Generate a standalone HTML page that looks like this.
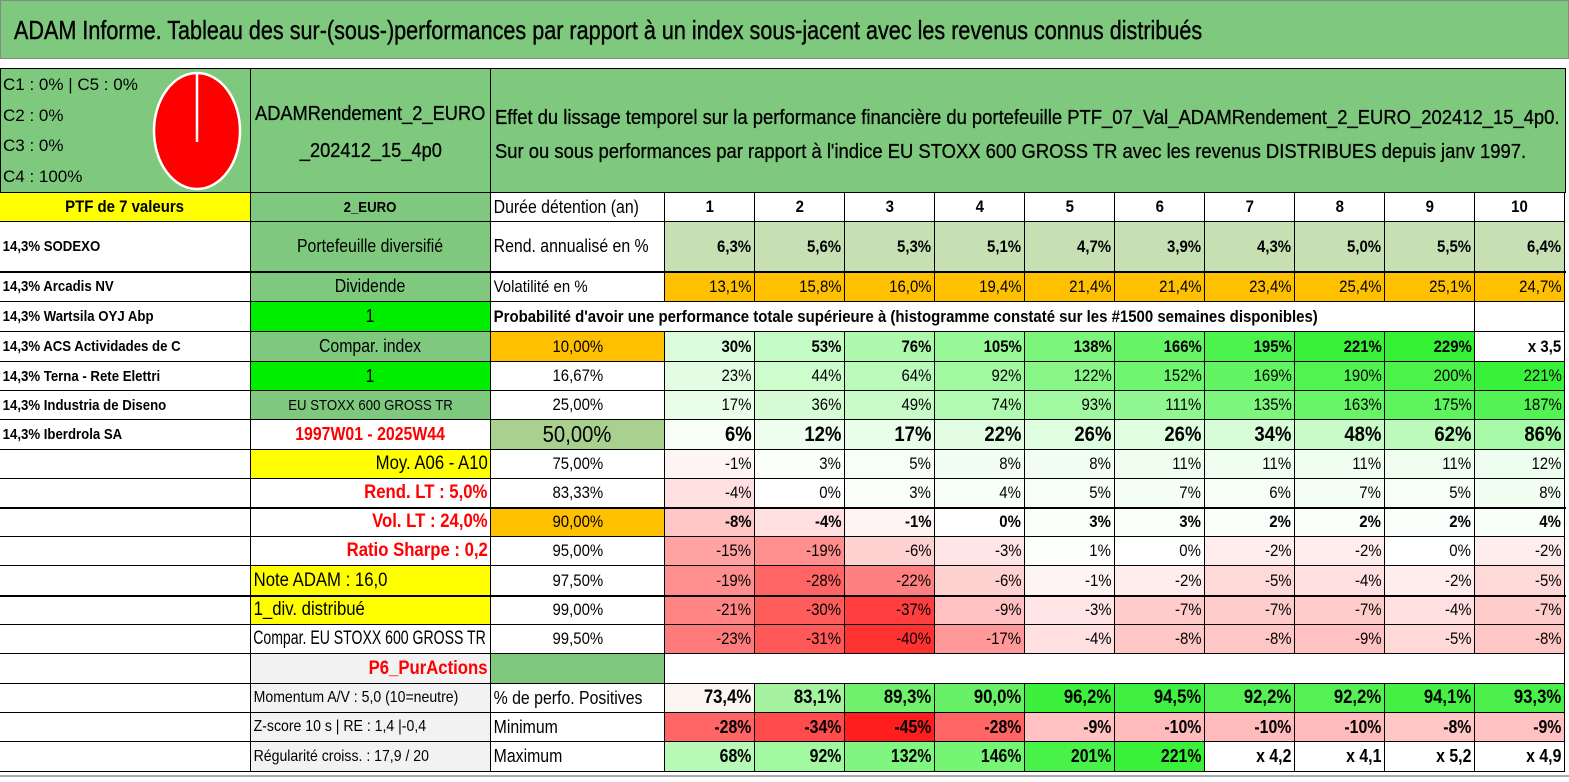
<!DOCTYPE html>
<html><head><meta charset="utf-8">
<style>
html,body{margin:0;padding:0;background:#fff;}
#root{position:relative;width:1569px;height:782px;overflow:hidden;font-family:"Liberation Sans Narrow","Liberation Sans",sans-serif;color:#000;}
.c{position:absolute;box-sizing:border-box;border-right:1px solid #000;border-bottom:1px solid #000;display:flex;align-items:center;overflow:hidden;white-space:nowrap;font-size:15px;}
.c span{display:inline-block;padding:0 3px;}
.l{justify-content:flex-start}.m{justify-content:center}.r{justify-content:flex-end}
.l span{transform-origin:left center}.m span{transform-origin:center center}.r span{transform-origin:right center}
.b{font-weight:bold}
</style></head><body>
<div id="root">
<div style="position:absolute;left:0;top:0;width:1569px;height:59px;background:#7fc97f;border:1px solid #888;box-sizing:border-box;">
 <span id="title" style="position:absolute;left:13px;top:14px;font-size:26px;white-space:nowrap;transform-origin:left center;display:inline-block;-webkit-text-stroke:0.4px #000;">ADAM Informe. Tableau des sur-(sous-)performances par rapport à un index sous-jacent avec les revenus connus distribués</span>
</div>
<div style="position:absolute;left:0;top:68px;width:1566px;height:125px;background:#7fc97f;border:1px solid #000;box-sizing:border-box;"></div>
<div style="position:absolute;left:3px;top:70px;font-size:17px;line-height:30.5px;">C1 : 0% | C5 : 0%<br>C2 : 0%<br>C3 : 0%<br>C4 : 100%</div>
<svg style="position:absolute;left:150px;top:70px" width="95" height="122"><ellipse cx="47" cy="61" rx="43" ry="58" fill="#ff0000" stroke="#fff" stroke-width="2.5"/><line x1="47" y1="3" x2="47" y2="72" stroke="#fff" stroke-width="2.5"/></svg>
<div style="position:absolute;left:250px;top:68px;width:1px;height:125px;background:#000"></div>
<div style="position:absolute;left:490px;top:68px;width:1px;height:125px;background:#000"></div>
<div style="position:absolute;left:251px;top:96px;width:239px;display:flex;flex-direction:column;align-items:center;font-size:20px;line-height:37px;-webkit-text-stroke:0.3px #000;"><span id="pn1" style="display:inline-block;white-space:nowrap">ADAMRendement_2_EURO</span><span id="pn2" style="display:inline-block;white-space:nowrap">_202412_15_4p0</span></div>
<div id="desc" style="position:absolute;left:495px;top:101px;font-size:20px;line-height:34px;white-space:nowrap;-webkit-text-stroke:0.3px #000;">Effet du lissage temporel sur la performance financière du portefeuille PTF_07_Val_ADAMRendement_2_EURO_202412_15_4p0.<br>Sur ou sous performances par rapport à l'indice EU STOXX 600 GROSS TR avec les revenus DISTRIBUES depuis janv 1997.</div>
</div>
<script>
const years=["1","2","3","4","5","6","7","8","9","10"];
const rendValues=["6,3%","5,6%","5,3%","5,1%","4,7%","3,9%","4,3%","5,0%","5,5%","6,4%"];
const volValues=["13,1%","15,8%","16,0%","19,4%","21,4%","21,4%","23,4%","25,4%","25,1%","24,7%"];
const quantLabels=["10,00%","16,67%","25,00%","50,00%","75,00%","83,33%","90,00%","95,00%","97,50%","99,00%","99,50%"];
const q10=[30,53,76,105,138,166,195,221,229,"x 3,5"];
const q16=[23,44,64,92,122,152,169,190,200,221];
const q25=[17,36,49,74,93,111,135,163,175,187];
const q50=[6,12,17,22,26,26,34,48,62,86];
const q75=[-1,3,5,8,8,11,11,11,11,12];
const q83=[-4,0,3,4,5,7,6,7,5,8];
const q90=[-8,-4,-1,0,3,3,2,2,2,4];
const q95=[-15,-19,-6,-3,1,0,-2,-2,0,-2];
const q97=[-19,-28,-22,-6,-1,-2,-5,-4,-2,-5];
const q99=[-21,-30,-37,-9,-3,-7,-7,-7,-4,-7];
const q995=[-23,-31,-40,-17,-4,-8,-8,-9,-5,-8];
const posValues=[73.4,83.1,89.3,90.0,96.2,94.5,92.2,92.2,94.1,93.3];
const minValues=[-28,-34,-45,-28,-9,-10,-10,-10,-8,-9];
const maxValues=[68,92,132,146,201,221,"x 4,2","x 4,1","x 5,2","x 4,9"];
const holdings=["14,3% SODEXO","14,3% Arcadis NV","14,3% Wartsila OYJ Abp","14,3% ACS Actividades de C","14,3% Terna - Rete Elettri","14,3% Industria de Diseno","14,3% Iberdrola SA"];

const root=document.getElementById('root');
const rowTops=[193,222,272,302,332,362,391,420,450,479,508,537,566,596,625,654,684,713,742,772];
const colX=[0,251,491,665,755,845,935,1025,1115,1205,1295,1385,1475,1565];
function mix(a,b,t){t=Math.max(0,Math.min(1,t));return 'rgb('+a.map((v,i)=>Math.round(v+(b[i]-v)*t)).join(',')+')';}
function heat(v){if(typeof v!=='number')return '#fff';if(v>=0)return mix([255,255,255],[40,240,40],Math.pow(v/230,0.85)*0.95);return mix([255,255,255],[255,30,30],Math.pow(-v/45,0.8));}
function cell(x0,x1,r0,r1,txt,cls,bg,color,fs,name){
 const d=document.createElement('div');
 d.className='c '+(cls||'m');
 d.style.left=x0+'px';d.style.width=(x1-x0)+'px';
 d.style.top=rowTops[r0]+'px';d.style.height=(rowTops[r1]-rowTops[r0])+'px';
 if(bg)d.style.background=bg;
 if(fs)d.style.fontSize=fs+'px';
 const s=document.createElement('span');s.textContent=txt;if(color)s.style.color=color;
 d.appendChild(s);
 
 
 root.appendChild(d);return d;
}
function fmt(v){return typeof v==='number'?v+'%':v;}
cell(0,251,0,1,"PTF de 7 valeurs",'m','#ffff00',null,17,'portfolio-count').classList.add('b');
holdings.forEach((h,i)=>cell(0,251,i+1,i+2,h,'l','#fff',null,15,'holding-'+(i+1)).classList.add('b'));
for(let r=8;r<19;r++)cell(0,251,r,r+1,"",'l','#fff',null,14,'empty-a-'+r);
const G='#7fc97f',Y='#ffff00',GR='#f2f2f2',LG='#00ee00';
const colB=[["2_EURO",G,null,15,'m',1],["Portefeuille diversifié",G,null,18,'m',0],["Dividende",G,null,18,'m',0],["1",LG,null,18,'m',0],["Compar. index",G,null,18,'m',0],["1",LG,null,18,'m',0],["EU STOXX 600 GROSS TR",G,null,15,'m',0],["1997W01 - 2025W44",'#fff','#ff0000',18,'m',1],["Moy. A06 - A10",Y,null,19,'r',0],["Rend. LT : 5,0%",'#fff','#ff0000',19,'r',1],["Vol. LT : 24,0%",'#fff','#ff0000',19,'r',1],["Ratio Sharpe : 0,2",'#fff','#ff0000',19,'r',1],["Note ADAM : 16,0",Y,null,19,'l',0],["1_div. distribué",Y,null,19,'l',0],["Compar. EU STOXX 600 GROSS TR",'#fff',null,19,'l',0],["P6_PurActions",GR,'#ff0000',19,'r',1],["Momentum A/V : 5,0 (10=neutre)",GR,null,16,'l',0],["Z-score 10 s | RE : 1,4 |-0,4",GR,null,16,'l',0],["Régularité croiss. : 17,9 / 20",GR,null,16,'l',0]];
colB.forEach((b,i)=>{const c=cell(251,491,i,i+1,b[0],b[4],b[1],b[2],b[3],'side-label-'+i);if(b[5])c.classList.add('b');});
cell(491,665,0,1,"Durée détention (an)",'l','#fff',null,18,'holding-period-label');
cell(491,665,1,2,"Rend. annualisé en %",'l','#fff',null,18,'return-label');
cell(491,665,2,3,"Volatilité en %",'l','#fff',null,17,'volatility-label');
cell(491,1475,3,4,"Probabilité d'avoir une performance totale supérieure à (histogramme constaté sur les #1500 semaines disponibles)",'l','#fff',null,17,'probability-caption').classList.add('b');
cell(1475,1565,3,4,"",'m','#fff',null,15,'empty-prob');
const qBg=['#ffc000',null,null,'#a9d08e',null,null,'#ffc000',null,null,null,null];
quantLabels.forEach((q,i)=>cell(491,665,4+i,5+i,q,'m',qBg[i]||'#fff',null,i==3?23:17,'quantile-'+i));
cell(491,665,15,16,"",'m','#7fc97f',null,15,'green-block');
cell(665,1565,15,16,"",'m','#fff',null,15,'blank-row');
cell(491,665,16,17,"% de perfo. Positives",'l','#fff',null,18,'positive-label');
cell(491,665,17,18,"Minimum",'l','#fff',null,18,'minimum-label');
cell(491,665,18,19,"Maximum",'l','#fff',null,18,'maximum-label');
years.forEach((y,i)=>{
 const x0=colX[3+i],x1=colX[4+i];
 cell(x0,x1,0,1,y,'m','#fff',null,17,'year-'+y).classList.add('b');
 cell(x0,x1,1,2,rendValues[i],'r','#c6e0b4',null,17,'return-y'+y).classList.add('b');
 cell(x0,x1,2,3,volValues[i],'r','#ffc000',null,17,'volatility-y'+y);
 const qs=[q10,q16,q25,q50,q75,q83,q90,q95,q97,q99,q995];
 qs.forEach((arr,k)=>{
  const v=arr[i];
  const c=cell(x0,x1,4+k,5+k,fmt(v),'r',heat(v),null,k==3?21:17,'q'+k+'-y'+y);
  if(k==0||k==3||k==6)c.classList.add('b');
 });
 const p=posValues[i];
 cell(x0,x1,16,17,p.toFixed(1).replace('.',',')+'%','r',mix([255,245,245],[60,240,60],(p-73)/22),null,19,'positive-y'+y).classList.add('b');
 cell(x0,x1,17,18,minValues[i]+'%','r',heat(minValues[i]),null,18,'min-y'+y).classList.add('b');
 cell(x0,x1,18,19,fmt(maxValues[i]),'r',heat(maxValues[i]),null,18,'max-y'+y).classList.add('b');
});
[272,508,596].forEach((t,i)=>{const d=document.createElement('div');d.style.cssText='position:absolute;left:0;width:1566px;height:2px;background:#000;top:'+(t-1)+'px';


root.appendChild(d);});
const bl=document.createElement('div');bl.style.cssText='position:absolute;left:0;top:775px;width:1569px;height:2px;background:#aaa';


root.appendChild(bl);
document.querySelectorAll('.c span').forEach(s=>{const w=s.parentNode.clientWidth-2;let k=0.88;if(s.offsetWidth*k>w)k=w/s.offsetWidth;s.style.transform='scaleX('+k+')';});
function fit(id,w,o){const e=document.getElementById(id);e.style.display='inline-block';const k=w/e.offsetWidth;e.style.transform='scaleX('+k+')';e.style.transformOrigin=o||'left center';}
fit('title',1188);fit('desc',1065);
fit('pn1',230,'center center');
document.getElementById('pn2').style.transform=document.getElementById('pn1').style.transform;
document.getElementById('pn2').style.transformOrigin='center center';
</script>
</body></html>
